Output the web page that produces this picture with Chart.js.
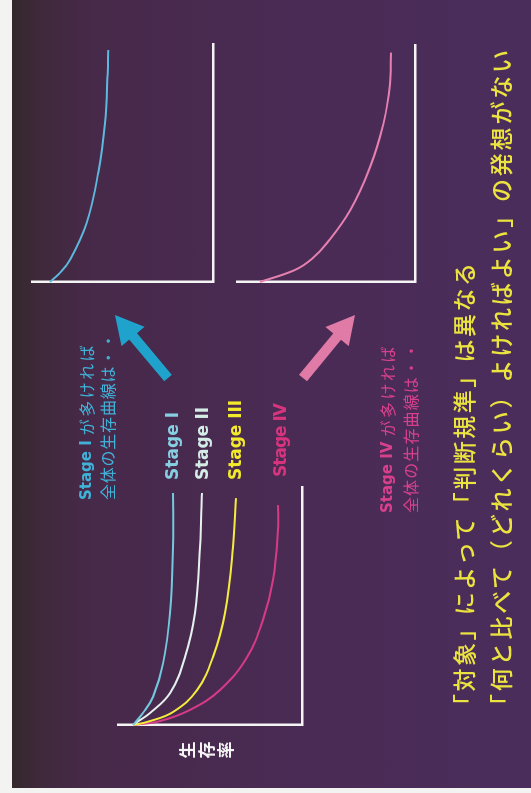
<!DOCTYPE html>
<html>
<head>
<meta charset="utf-8">
<script src="https://cdn.jsdelivr.net/npm/chart.js@4"></script>
<style>
  html, body { margin: 0; padding: 0; background: #fff; }
  body { width: 531px; height: 793px; overflow: hidden; position: relative; }
  /* slide is laid out in landscape, then turned a quarter left like the scan */
  #slide { position: absolute; left: 0; top: 0; width: 793px; height: 531px;
           transform-origin: 0 0; transform: translate(0, 793px) rotate(-90deg); background: #f3f3f1; }
  #bg { position: absolute; left: 5px; top: 12px; right: 0; bottom: 0;
        background: linear-gradient(to bottom, #33292c 0px, #3f293b 28px, #47294a 80px, #4a2b55 300px, #4b2d5c 519px); }
  canvas { position: absolute; }
  svg { position: absolute; left: 0; top: 0; }
  .title { font-family: "Noto Sans CJK JP"; font-size: 23px; fill: #ece43e; font-weight: 500; }
  .stage { font-family: "DejaVu Sans"; font-weight: bold; font-size: 17px; }
  .note { font-family: "Noto Sans CJK JP"; font-size: 16px; }
  .noteStage { font-family: "DejaVu Sans"; font-weight: bold; font-size: 15px; }
</style>
</head>
<body>
<div id="slide">
  <div id="bg"></div>
  <canvas id="mainChart" width="258" height="204" style="left:58px;top:108px"></canvas>
  <canvas id="stage1Chart" width="258" height="201" style="left:501px;top:22px"></canvas>
  <canvas id="stage4Chart" width="257" height="198" style="left:501px;top:227px"></canvas>
  <svg id="overlay" width="793" height="531">
    <g font-family="Noto Sans CJK JP" font-size="17" font-weight="bold" fill="#f4f4f4" text-anchor="middle" dominant-baseline="central">
      <text x="43" y="186">生</text>
      <text x="43" y="205">存</text>
      <text x="43" y="224">率</text>
    </g>
    <g dominant-baseline="central">
      <text id="lbl0" class="stage" x="313" y="172" textLength="68" lengthAdjust="spacing"></text>
      <text id="lbl1" class="stage" x="313" y="202" textLength="73" lengthAdjust="spacing"></text>
      <text id="lbl2" class="stage" x="313" y="235" textLength="80" lengthAdjust="spacing"></text>
      <text id="lbl3" class="stage" x="316" y="280" textLength="74" lengthAdjust="spacing"></text>

      <text class="note" x="293" y="86" fill="#3fb2d8"><tspan class="noteStage">Stage I</tspan><tspan dx="5" letter-spacing="2.5">が多ければ</tspan></text>
      <text class="note" x="293" y="107" fill="#3fb2d8" textLength="167" lengthAdjust="spacing">全体の生存曲線は・・</text>
      <text class="note" x="280" y="387" fill="#d8408c"><tspan class="noteStage">Stage IV</tspan><tspan dx="5" letter-spacing="2.5">が多ければ</tspan></text>
      <text class="note" x="280" y="410" fill="#d8408c" textLength="170" lengthAdjust="spacing">全体の生存曲線は・・</text>

      <text class="title" x="76" y="463" textLength="454" lengthAdjust="spacing">「対象」によって「判断規準」は異なる</text>
      <text class="title" x="76" y="500" textLength="667" lengthAdjust="spacing">「何と比べて（どれくらい）よければよい」の発想がない</text>
    </g>
    <polygon id="arrowBlue" fill="#1fa3cc"></polygon>
    <polygon id="arrowPink" fill="#e07aa6"></polygon>
  </svg>
</div>

<script>
// time axis 0..10 (years, schematic), survival in %
const TIME_MAX = 10.26;

const stageNames = ["Stage I", "Stage II", "Stage III", "Stage IV"];
const stageColors = ["#74c8de", "#e4f1ec", "#f4ec3c", "#d63a86"];
const labelColors = ["#86cfe2", "#d4ece6", "#f2ea2a", "#d8347e"];

const stage1Time = [0, 0.52, 1.21, 2.67, 4.83, 7.67, 10];
const stage1Surv = [100, 94.1, 88.2, 82.2, 78.1, 76.3, 76.3];

const stage2Time = [0, 0.13, 0.52, 1.38, 2.93, 4.83, 7.67, 10];
const stage2Surv = [100, 97.6, 89.9, 78.1, 69.2, 63.3, 60.4, 59.2];

const stage3Time = [0, 0.13, 0.56, 1.51, 2.93, 4.83, 7.67, 9.78];
const stage3Surv = [100, 91.7, 76.3, 62.1, 52.7, 45.6, 40.8, 39.1];

const stage4Time = [0, 0.17, 0.65, 1.51, 2.93, 4.53, 6.25, 8.41, 9.48];
const stage4Surv = [100, 84.0, 66.3, 48.5, 32.5, 23.1, 17.2, 14.2, 14.2];

// overall survival when Stage I / Stage IV patients dominate
const mostlyITime = [0, 0.39, 0.95, 2.54, 4.7, 6.85, 9.0, 10];
const mostlyISurv = [100, 93.9, 87.7, 77.5, 70.4, 66.3, 64.6, 64.2];

const mostlyIVTime = [0, 0.52, 1.0, 1.67, 3.1, 4.97, 6.84, 8.56, 9.93];
const mostlyIVSurv = [100, 77.5, 66.5, 57.0, 41.9, 29.0, 20.4, 16.1, 15.5];

function toPoints(ts, ss) {
  return ts.map((t, i) => ({ x: t, y: ss[i] }));
}

function makeChart(id, datasets, yMax) {
  const axisStyle = {
    grid: { display: false, drawTicks: false, tickLength: 0 },
    ticks: { display: false, padding: 0 },
    border: { color: "#f4f4f4", width: 2.5 },
  };
  return new Chart(document.getElementById(id), {
    type: "scatter",
    data: {
      datasets: datasets.map((d) => ({
        data: d.data,
        showLine: true,
        borderColor: d.color,
        borderWidth: 2,
        pointRadius: 0,
        tension: 0.4,
        clip: 4,
      })),
    },
    options: {
      responsive: false,
      animation: false,
      layout: { padding: 10, autoPadding: false },
      plugins: { legend: { display: false }, tooltip: { enabled: false } },
      scales: {
        x: { type: "linear", min: 0, max: TIME_MAX, ...axisStyle },
        y: { type: "linear", min: 0, max: yMax, ...axisStyle },
      },
    },
  });
}

makeChart("mainChart", [
  { data: toPoints(stage1Time, stage1Surv), color: stageColors[0] },
  { data: toPoints(stage2Time, stage2Surv), color: stageColors[1] },
  { data: toPoints(stage3Time, stage3Surv), color: stageColors[2] },
  { data: toPoints(stage4Time, stage4Surv), color: stageColors[3] },
], 108.9);

makeChart("stage1Chart", [{ data: toPoints(mostlyITime, mostlyISurv), color: "#5cb8dc" }], 111);
makeChart("stage4Chart", [{ data: toPoints(mostlyIVTime, mostlyIVSurv), color: "#e680b0" }], 114.8);

stageNames.forEach((name, i) => {
  const el = document.getElementById("lbl" + i);
  el.textContent = name;
  el.setAttribute("fill", labelColors[i]);
});

// block arrows pointing at the two small charts
function arrowPoints(tx, ty, hx, hy, shaftHalf, headLen, headHalf) {
  const dx = hx - tx, dy = hy - ty;
  const len = Math.hypot(dx, dy);
  const ux = dx / len, uy = dy / len;
  const nx = -uy, ny = ux;
  const bx = hx - ux * headLen, by = hy - uy * headLen;
  const pts = [
    [tx + nx * shaftHalf, ty + ny * shaftHalf],
    [bx + nx * shaftHalf, by + ny * shaftHalf],
    [bx + nx * headHalf, by + ny * headHalf],
    [hx, hy],
    [bx - nx * headHalf, by - ny * headHalf],
    [bx - nx * shaftHalf, by - ny * shaftHalf],
    [tx - nx * shaftHalf, ty - ny * shaftHalf],
  ];
  return pts.map((p) => p[0].toFixed(1) + "," + p[1].toFixed(1)).join(" ");
}
document.getElementById("arrowBlue").setAttribute("points", arrowPoints(415, 168, 478, 115, 5, 28, 15));
document.getElementById("arrowPink").setAttribute("points", arrowPoints(415, 303, 478, 355, 5, 28, 15));
</script>
</body>
</html>
